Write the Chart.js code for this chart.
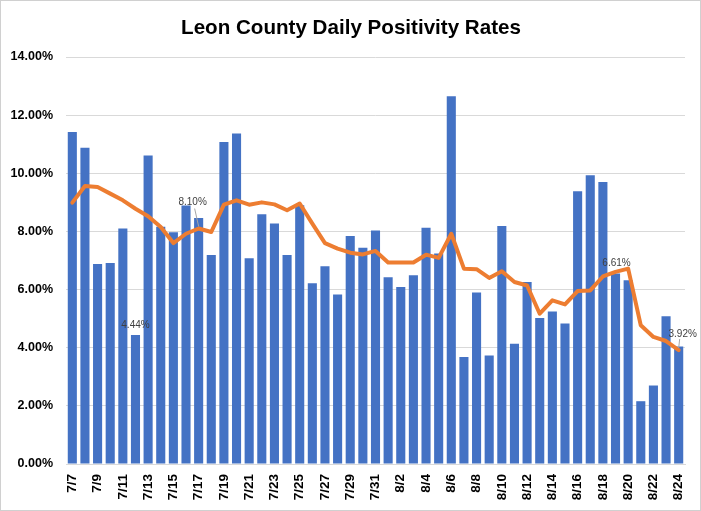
<!DOCTYPE html>
<html>
<head>
<meta charset="utf-8">
<script src="https://cdn.jsdelivr.net/npm/chart.js@4"></script>
<style>
html,body{margin:0;padding:0;background:#fff;}
#wrap{width:701px;height:511px;position:relative;}
</style>
</head>
<body>
<div id="wrap"><canvas id="c" width="701" height="511"></canvas></div>
<script>
const titleText = 'Leon County Daily Positivity Rates';
const dates = ['7/7','7/8','7/9','7/10','7/11','7/12','7/13','7/14','7/15','7/16','7/17','7/18','7/19','7/20','7/21','7/22','7/23','7/24','7/25','7/26','7/27','7/28','7/29','7/30','7/31',
  '8/1','8/2','8/3','8/4','8/5','8/6','8/7','8/8','8/9','8/10','8/11','8/12','8/13','8/14','8/15','8/16','8/17','8/18','8/19','8/20','8/21','8/22','8/23','8/24'];
const dailyRates = [11.42,10.88,6.88,6.91,8.10,4.44,10.61,8.16,7.97,8.89,8.46,7.19,11.08,11.37,7.08,8.59,8.27,7.19,8.90,6.22,6.80,5.83,7.84,7.44,8.03,
  6.42,6.09,6.49,8.13,7.24,12.65,3.68,5.90,3.73,8.19,4.14,6.26,5.02,5.25,4.83,9.38,9.93,9.70,6.55,6.32,2.16,2.70,5.08,4.04];
const avgRates = [8.99,9.56,9.53,9.30,9.07,8.78,8.52,8.15,7.60,7.92,8.10,7.98,8.92,9.07,8.92,9.00,8.93,8.73,8.96,8.27,7.60,7.41,7.27,7.21,7.33,
  6.93,6.93,6.93,7.20,7.09,7.92,6.72,6.70,6.40,6.63,6.26,6.14,5.17,5.63,5.49,5.95,5.97,6.45,6.61,6.72,4.77,4.37,4.23,3.92];
const yTicks = [0,2,4,6,8,10,12,14];
// data labels: dataset index (0 = bars, 1 = line), point index
const labelPoints = [[0,5],[1,10],[1,43],[1,48]];

const extras = {
  id:'extras',
  beforeDraw(chart){
    const ctx = chart.ctx;
    ctx.save();
    ctx.fillStyle='#fff';
    ctx.fillRect(0,0,chart.width,chart.height);
    ctx.restore();
  },
  afterDraw(chart){
    const ctx = chart.ctx;
    ctx.save();
    ctx.strokeStyle='#d0d0d0';
    ctx.lineWidth=1;
    ctx.strokeRect(0.5,0.5,chart.width-1,chart.height-1);
    ctx.fillStyle='#000';
    ctx.font='bold 20.6px "Liberation Sans", Arial, sans-serif';
    ctx.textAlign='center';
    ctx.textBaseline='middle';
    ctx.fillText(titleText, 351, 28.5);
    ctx.font='10px "Liberation Sans", Arial, sans-serif';
    ctx.fillStyle='#404040';
    labelPoints.forEach(([ds,i])=>{
      const el = chart.getDatasetMeta(ds).data[i];
      const v = chart.data.datasets[ds].data[i];
      const txt = v.toFixed(2)+'%';
      let lx = el.x, ly = el.y - 10, lead=null;
      if(ds===1 && i===10){ lx = el.x-6; ly = el.y-26; lead=[el.x-4,el.y-20,el.x,el.y-2]; }
      if(ds===1 && i===48){ lx = el.x+4; ly = el.y-16; lead=[el.x+1,el.y-11,el.x,el.y-2]; }
      if(ds===1 && i===43){ lx = el.x+1; ly = el.y-9; }
      if(lead){
        ctx.strokeStyle='#a6a6a6';
        ctx.lineWidth=1;
        ctx.beginPath();ctx.moveTo(lead[0],lead[1]);ctx.lineTo(lead[2],lead[3]);ctx.stroke();
      }
      ctx.fillText(txt, lx, ly);
    });
    ctx.restore();
  }
};

new Chart(document.getElementById('c'), {
  data:{
    labels: dates,
    datasets:[
      {type:'bar', data: dailyRates, backgroundColor:'#4472C4', borderWidth:0, barPercentage:0.72, categoryPercentage:1, order:2},
      {type:'line', data: avgRates, borderColor:'#ED7D31', borderWidth:4, pointRadius:0, tension:0, borderCapStyle:'round', borderJoinStyle:'round', order:1}
    ]
  },
  options:{
    responsive:false,
    animation:false,
    layout:{padding:{left:0,right:16,top:57,bottom:0}},
    plugins:{legend:{display:false}, tooltip:{enabled:false}, title:{display:false}},
    scales:{
      x:{
        grid:{display:false, drawTicks:false},
        border:{display:true,color:'#d9d9d9'},
        ticks:{
          autoSkip:false, maxRotation:90, minRotation:90, padding:10,
          color:'#000', font:{family:'"Liberation Sans", Arial, sans-serif', size:13.5, weight:'bold'},
          callback:function(v,i){ return i%2===0 ? dates[i] : ''; }
        },
        afterFit(s){ s.height = 47; s.paddingLeft = 0; s.paddingRight = 0; }
      },
      y:{
        min:0, max:14,
        afterBuildTicks(s){ s.ticks = yTicks.map(v=>({value:v})); },
        grid:{color:'#d9d9d9', drawTicks:false},
        border:{display:false},
        ticks:{
          padding:13, color:'#000',
          font:{family:'"Liberation Sans", Arial, sans-serif', size:12.5, weight:'bold'},
          callback:v=>v.toFixed(2)+'%'
        },
        afterFit(s){ s.width = 66; s.paddingTop = 0; s.paddingBottom = 0; }
      }
    }
  },
  plugins:[extras]
});
</script>
</body>
</html>
